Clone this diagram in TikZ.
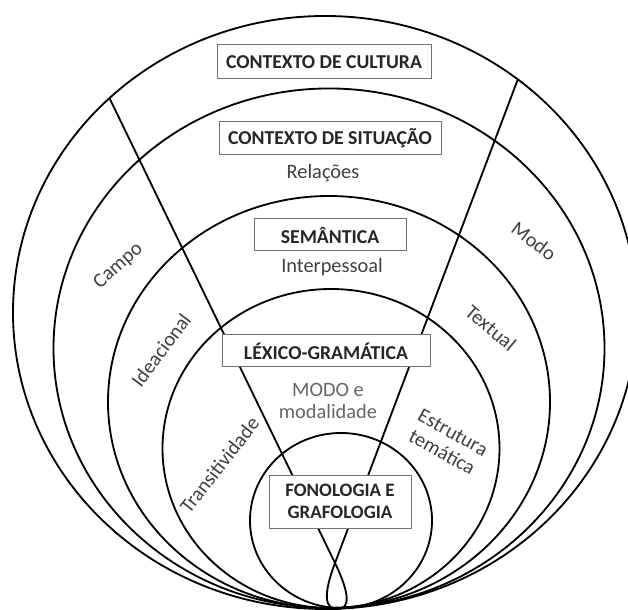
\documentclass[tikz,border=0pt]{standalone}
\usepackage{fontspec}
\setmainfont{Carlito}
\begin{document}
\begin{tikzpicture}[
    box/.style={draw=black!55, line width=0.7pt, fill=white, inner sep=0pt,
        font=\bfseries\fontsize{14}{16}\selectfont, text=black!85, align=center},
    lbl/.style={font=\fontsize{14.5}{16}\selectfont, text=black!75, align=center},
    ring/.style={line width=1.3pt}
]
    \useasboundingbox (0,0) rectangle (15.7,15.25);
    \clip (0,0) rectangle (15.7,15.25);

    % Nested strata, all touching at the bottom
    \draw[ring] (8.125,7.4375) ellipse [x radius=7.8, y radius=7.4125];
    \draw[ring] (8.225,6.544) ellipse [x radius=6.8875, y radius=6.494];
    \draw[ring] (8.225,5.2) ellipse [x radius=5.525, y radius=5.15];
    \draw[ring] (8.275,4.0375) ellipse [x radius=4.2125, y radius=3.9875];
    \draw[ring] (8.525,2.2375) ellipse [x radius=2.275, y radius=2.1875];

    % Dividing lines, crossing in a loop at the bottom
    \coordinate (topL) at (2.74,12.79);
    \coordinate (topR) at (12.94,13.25);
    \coordinate (cross) at (8.375,1.175);
    \draw[ring] (topL) -- (cross)
        .. controls (8.757,0.388) and (8.75,0.02) .. (8.4375,0.02)
        .. controls (8.125,0.02) and (8.066,0.357) .. (cross) -- (topR);

    % Stratum titles
    \node[box, minimum width=5.35cm, minimum height=0.85cm] (cultura) at (8.1,13.7) {CONTEXTO DE CULTURA};
    \node[box, minimum width=5.55cm, minimum height=0.825cm] (situacao) at (8.25,11.7875) {CONTEXTO DE SITUAÇÃO};
    \node[box, minimum width=3.8cm, minimum height=0.8cm] (semantica) at (8.25,9.375) {SEMÂNTICA};
    \node[box, minimum width=5.2cm, minimum height=0.8cm] (lexico) at (8.15,6.475) {LÉXICO-GRAMÁTICA};
    \node[box, minimum width=3.55cm, minimum height=1.325cm, font=\bfseries\fontsize{13.5}{15.5}\selectfont] (fonologia) at (8.5,2.7125) {FONOLOGIA E\\GRAFOLOGIA};

    % Middle column
    \node[lbl] (relacoes) at (8.075,10.925) {Relações};
    \node[lbl] (interpessoal) at (8.3,8.575) {Interpessoal};
    \node[lbl, text=black!60] (modo) at (8.2,5.225) {MODO e\\modalidade};

    % Left column
    \node[lbl, rotate=42] (campo) at (2.9625,8.6) {Campo};
    \node[lbl, rotate=53] (ideacional) at (4.025,6.5) {Ideacional};
    \node[lbl, rotate=52] (transitividade) at (5.4875,3.625) {Transitividade};

    % Right column
    \node[lbl, rotate=-37] (modoR) at (13.35,9.225) {Modo};
    \node[lbl, rotate=-40] (textual) at (12.275,7.05) {Textual};
    \node[lbl, rotate=-29] (estrutura) at (11.1875,4.1875) {Estrutura\\temática};
\end{tikzpicture}
\end{document}
